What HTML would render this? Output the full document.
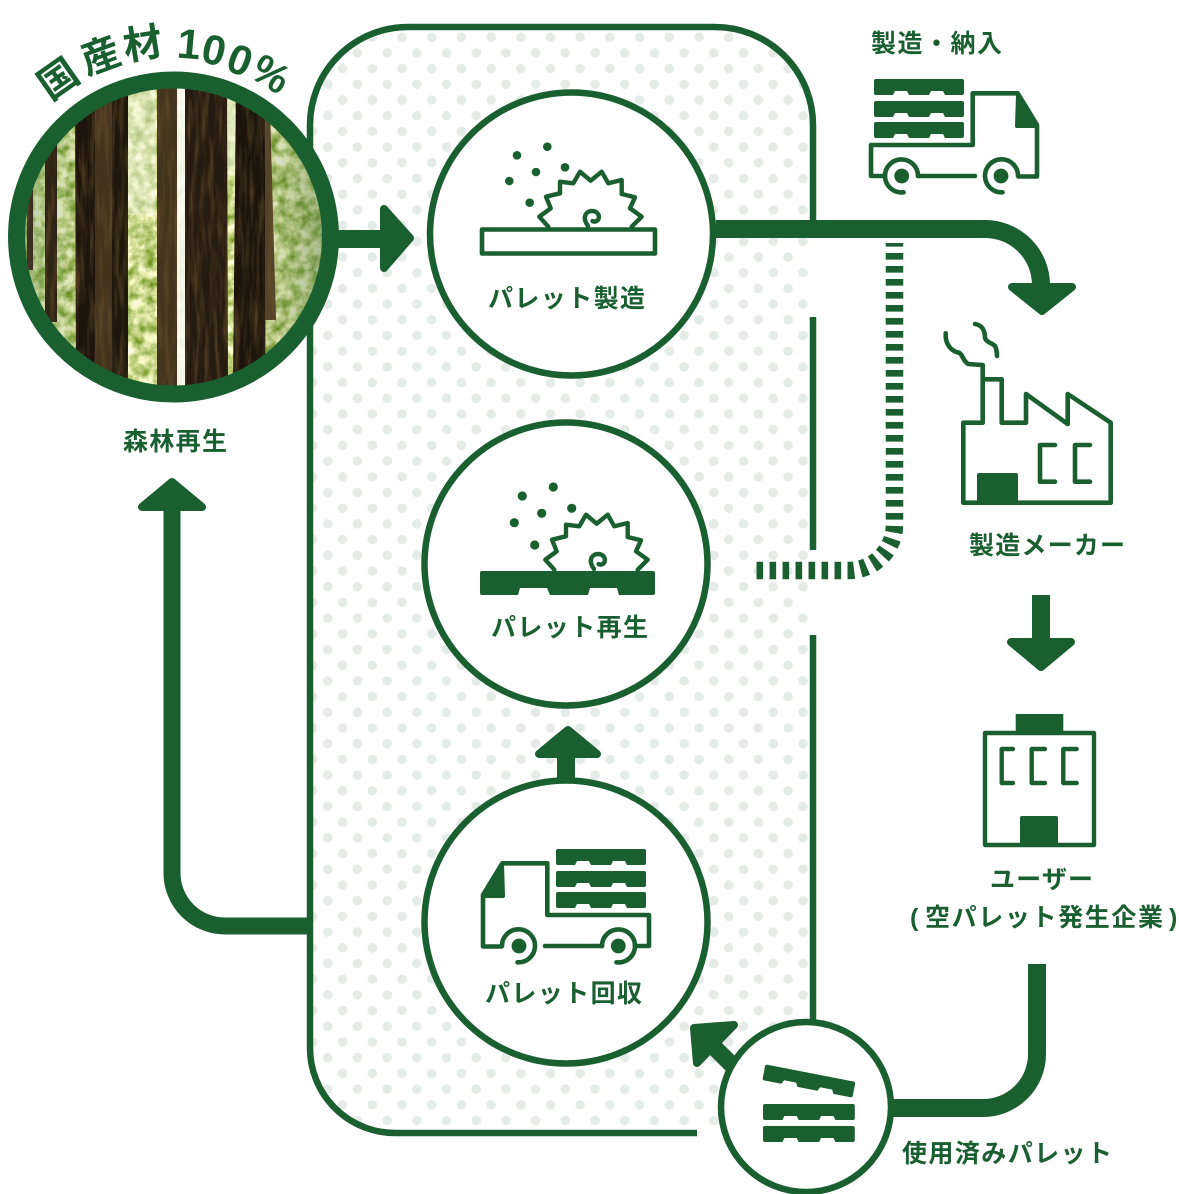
<!DOCTYPE html>
<html><head><meta charset="utf-8">
<style>
html,body{margin:0;padding:0;background:#fff;width:1179px;height:1194px;overflow:hidden}
svg{display:block}
text{font-family:"Liberation Sans","Noto Sans CJK JP",sans-serif;font-weight:700;fill:#1a5f30;dominant-baseline:central}
</style></head><body>
<svg width="1179" height="1194" viewBox="0 0 1179 1194" xmlns="http://www.w3.org/2000/svg">
<defs>
<pattern id="dots" patternUnits="userSpaceOnUse" width="29.7" height="31.4" patternTransform="translate(424,92)">
<circle cx="7.7" cy="8" r="4.8" fill="#e5ebe7"/><circle cx="22.55" cy="23.7" r="4.8" fill="#e5ebe7"/>
</pattern>
<clipPath id="photo"><circle cx="173.5" cy="237" r="150"/></clipPath>
<filter id="foliage" x="0" y="0" width="100%" height="100%" color-interpolation-filters="sRGB">
<feTurbulence type="fractalNoise" baseFrequency="0.09" numOctaves="3" seed="4"/>
<feColorMatrix type="matrix" values="1.1 0 0 0 0.25  0.8 0 0 0 0.45  1.3 0 0 0 -0.1  0 0 0 0 1"/>
</filter>
<filter id="bark" x="0" y="0" width="100%" height="100%" color-interpolation-filters="sRGB">
<feTurbulence type="fractalNoise" baseFrequency="0.2 0.02" numOctaves="3" seed="7"/>
<feColorMatrix type="matrix" values="0 0 0 0 .42  0 0 0 0 .32  0 0 0 0 .18  1.5 0 0 0 -.62"/>
<feComposite in2="SourceGraphic" operator="in" result="n"/>
<feMerge><feMergeNode in="SourceGraphic"/><feMergeNode in="n"/></feMerge>
</filter>
<linearGradient id="shade" x1="0" y1="0" x2="1" y2="0">
<stop offset="0" stop-color="#4f7a48" stop-opacity=".4"/><stop offset=".25" stop-color="#4f7a48" stop-opacity=".05"/><stop offset=".7" stop-color="#4f7a48" stop-opacity="0"/><stop offset="1" stop-color="#3e6a35" stop-opacity=".5"/>
</linearGradient>
<path id="pal" d="M2 0H88Q90 0 90 2V14Q90 16 88 16H71L69 12H57L55 16H35L33 12H21L19 16H2Q0 16 0 14V2Q0 0 2 0Z" fill="#1a5f30"/>
<g id="truck">
<use href="#pal" x="874" y="79"/><use href="#pal" x="874" y="101"/><use href="#pal" x="874" y="122"/>
<path d="M885 176H871V145H972.7V93.3H1017.7L1037 125V176.5H1018.5M918 176H975" fill="none" stroke="#1a5f30" stroke-width="4.6" stroke-linejoin="round" stroke-linecap="round"/>
<path d="M903.5 192.3A16.5 16.5 0 1 1 918 176M1002.5 192.3A16.5 16.5 0 1 1 1018 176" fill="none" stroke="#1a5f30" stroke-width="4.6" stroke-linecap="round"/>
<circle cx="901.7" cy="176" r="7.4" fill="#1a5f30"/><circle cx="1001" cy="176" r="7.4" fill="#1a5f30"/>
<path d="M1016 94L1037 125V128H1017Q1015 128 1015 126Z" fill="#1a5f30"/>
</g>
<g id="saw" fill="none" stroke="#1a5f30" stroke-width="4.4" stroke-linejoin="round" stroke-linecap="round">
<path d="M548.3 226.7L539.3 216.7L550.7 208.3L546 196.7L560 193.3L560 181.7L573.3 183.3L580 171.7L590.7 180.7L601.7 171.7L608.3 183.3L621.7 180L621.7 194L635 197.3L630 208.3L641.7 216.7L631.7 226.7"/>
<path d="M588 226C581 216 587 211 592 211C597 211 600 215 598.5 219C597 222 594 222 592.5 221"/>
</g>
</defs>
<rect width="1179" height="1194" fill="#fff"/>

<!-- dotted container -->
<path d="M310 125A98 98 0 0 1 408 27H715A98 98 0 0 1 813 125V1133H395A85 85 0 0 1 310 1048Z" fill="url(#dots)"/>
<path d="M697 1133H395A85 85 0 0 1 310 1048V125A98 98 0 0 1 408 27H715A98 98 0 0 1 813 125V225M813 317V550M813 635V1030" fill="none" stroke="#1a5f30" stroke-width="6.5"/>

<!-- arrows -->
<path d="M716 229H985A56 56 0 0 1 1041 285" fill="none" stroke="#1a5f30" stroke-width="18"/>
<path d="M1012 287H1072L1042 311Z" fill="#1a5f30" stroke="#1a5f30" stroke-width="8" stroke-linejoin="round"/>
<path d="M894.5 243V524.5A46 46 0 0 1 848.5 570.5H755" fill="none" stroke="#1a5f30" stroke-width="17.5" stroke-dasharray="6.6 6.4" stroke-dashoffset="3"/>
<path d="M1041 595V642" stroke="#1a5f30" stroke-width="18" fill="none"/>
<path d="M1011 642H1071L1041 667Z" fill="#1a5f30" stroke="#1a5f30" stroke-width="8" stroke-linejoin="round"/>
<path d="M566 756V782" stroke="#1a5f30" stroke-width="18" fill="none"/>
<path d="M539 754H597L568 730Z" fill="#1a5f30" stroke="#1a5f30" stroke-width="8" stroke-linejoin="round"/>
<path d="M310 926H225A53 53 0 0 1 172 873V505" fill="none" stroke="#1a5f30" stroke-width="17"/>
<path d="M142 507H202L172 482Z" fill="#1a5f30" stroke="#1a5f30" stroke-width="8" stroke-linejoin="round"/>
<path d="M885 1108H983A54 54 0 0 0 1037 1054V964" fill="none" stroke="#1a5f30" stroke-width="18"/>
<path d="M710 1043L745 1078" stroke="#1a5f30" stroke-width="17" fill="none"/>
<path d="M734 1025L694 1028L697 1063Z" fill="#1a5f30" stroke="#1a5f30" stroke-width="8" stroke-linejoin="round"/>
<path d="M335 239H385" stroke="#1a5f30" stroke-width="18" fill="none"/>
<path d="M384 209L410 238L384 268Z" fill="#1a5f30" stroke="#1a5f30" stroke-width="8" stroke-linejoin="round"/>

<!-- forest photo -->
<g clip-path="url(#photo)">
<rect x="20" y="80" width="310" height="320" filter="url(#foliage)"/>
<rect x="20" y="80" width="310" height="320" fill="url(#shade)"/>
<rect x="128" y="85" width="28" height="130" fill="#f6f8ea" opacity=".45"/>
<rect x="177" y="85" width="8" height="310" fill="#fbfbf2" opacity=".9"/>
<rect x="227" y="85" width="8" height="90" fill="#eef2d8" opacity=".7"/>
<g filter="url(#bark)">
<path d="M45 140H57V322H45Z" fill="#2f2415"/>
<path d="M27 190H33V270H27Z" fill="#3a3020"/>
<path d="M75 100H95V370H76Z" fill="#1d140b"/>
<path d="M95 100H112V372H95Z" fill="#43331f"/>
<path d="M112 90H128V385H112Z" fill="#1f170c"/>
<path d="M157 85H177V390H157Z" fill="#43341f"/>
<path d="M185 85H227L228 390H185Z" fill="#261b10"/>
<path d="M236 90H267L265 385H233Z" fill="#1c140b"/>
<path d="M265 110H270L276 320H265Z" fill="#54432a"/>
</g>
</g>
<circle cx="173.5" cy="237" r="157" fill="none" stroke="#1a5f30" stroke-width="17"/>

<!-- process circles -->
<circle cx="571.5" cy="234" r="141.5" fill="#fff" stroke="#1a5f30" stroke-width="6.5"/>
<circle cx="566" cy="564" r="141.5" fill="#fff" stroke="#1a5f30" stroke-width="6.5"/>
<circle cx="566" cy="922" r="141.5" fill="#fff" stroke="#1a5f30" stroke-width="6.5"/>
<circle cx="806" cy="1107" r="85" fill="#fff" stroke="#1a5f30" stroke-width="6.5"/>

<!-- saw 1 -->
<use href="#saw"/>
<rect x="482" y="229.5" width="173" height="24" fill="#fff" stroke="#1a5f30" stroke-width="4.6" stroke-linejoin="round"/>
<g fill="#1a5f30"><circle cx="517" cy="155.3" r="4.3"/><circle cx="547.3" cy="146.7" r="4.3"/><circle cx="536" cy="172" r="4.3"/><circle cx="565" cy="167.3" r="4.3"/><circle cx="509.3" cy="181" r="4.3"/><circle cx="529.7" cy="202.7" r="4.3"/></g>

<!-- saw 2 -->
<use href="#saw" transform="translate(6,343)"/>
<g fill="#1a5f30"><circle cx="522.3" cy="496" r="4.6"/><circle cx="553.3" cy="487" r="4.6"/><circle cx="541.7" cy="513.3" r="4.6"/><circle cx="571.7" cy="508.3" r="4.6"/><circle cx="514.3" cy="522.7" r="4.6"/><circle cx="534.7" cy="545" r="4.6"/></g>
<path d="M482 571H653Q655 571 655 573V593Q655 595 653 595H619L617 588H590L588 595H550L547 588H520L518 595H482Q480 595 480 593V573Q480 571 482 571Z" fill="#1a5f30"/>

<!-- trucks -->
<use href="#truck"/>
<use href="#truck" transform="translate(1520,770) scale(-1,1)"/>

<!-- used pallets -->
<use href="#pal" transform="translate(763,1104) scale(1.02,1)"/>
<use href="#pal" transform="translate(763,1126) scale(1.02,1)"/>
<use href="#pal" transform="translate(809,1081) rotate(11) translate(-46,-8) scale(1.02,1)"/>

<!-- factory -->
<g fill="none" stroke="#1a5f30" stroke-width="4.6" stroke-linejoin="round" stroke-linecap="round">
<path d="M963.3 502.7V422.7H982.7V379.3H1001.7V422.7H1026V394L1067.7 424V394L1110.7 422.7V502.7Z"/>
<path d="M982.7 379.3V365"/>
<path d="M945.7 333.3C945 343 950 350 957.3 352.3C963 353 962 360 968 364L982 365"/>
<path d="M975 324C983 325 985 332 985 338C986 342 992 343 995 346C997 350 997 354 997 356"/>
<path d="M1055 445H1040V481.7H1055M1090 445H1075V481.7H1090"/>
</g>
<rect x="977" y="473" width="41" height="30" rx="2" fill="#1a5f30"/>

<!-- building -->
<g fill="none" stroke="#1a5f30" stroke-width="4.4" stroke-linejoin="round" stroke-linecap="round">
<rect x="985" y="733" width="109" height="112"/>
<path d="M1013 749H1001.7V783H1013M1045 749H1031.7V783H1045M1076.7 749H1063.3V783H1076.7"/>
</g>
<rect x="1015.7" y="714" width="47.6" height="19" fill="#1a5f30"/>
<rect x="1020" y="816" width="38" height="30" rx="2" fill="#1a5f30"/>

<!-- labels -->
<text x="59" y="80" font-size="39" text-anchor="middle" transform="rotate(-35 59 80)">国</text>
<text x="101" y="57" font-size="39" text-anchor="middle" transform="rotate(-20 101 57)">産</text>
<text x="143" y="45" font-size="39" text-anchor="middle" transform="rotate(-9 143 45)">材</text>
<text x="189" y="44" font-size="42" text-anchor="middle" transform="rotate(5 189 44)">1</text>
<text x="214" y="50" font-size="42" text-anchor="middle" transform="rotate(13 214 50)">0</text>
<text x="240" y="60" font-size="42" text-anchor="middle" transform="rotate(21 240 60)">0</text>
<text x="271" y="74" font-size="41" text-anchor="middle" transform="rotate(32 271 74)">%</text>
<g font-size="25">
<text x="123" y="442" textLength="104">森林再生</text>
<text x="488" y="299" textLength="157">パレット製造</text>
<text x="491" y="628" textLength="157">パレット再生</text>
<text x="485" y="994" textLength="157">パレット回収</text>
<text x="871" y="44" textLength="131">製造・納入</text>
<text x="969" y="546" textLength="156">製造メーカー</text>
<text x="990" y="880" textLength="103">ユーザー</text>
<text x="910" y="918">(</text>
<text x="925" y="918" textLength="238">空パレット発生企業</text>
<text x="1169" y="918">)</text>
<text x="902" y="1154" textLength="210">使用済みパレット</text>
</g>
</svg>
</body></html>
